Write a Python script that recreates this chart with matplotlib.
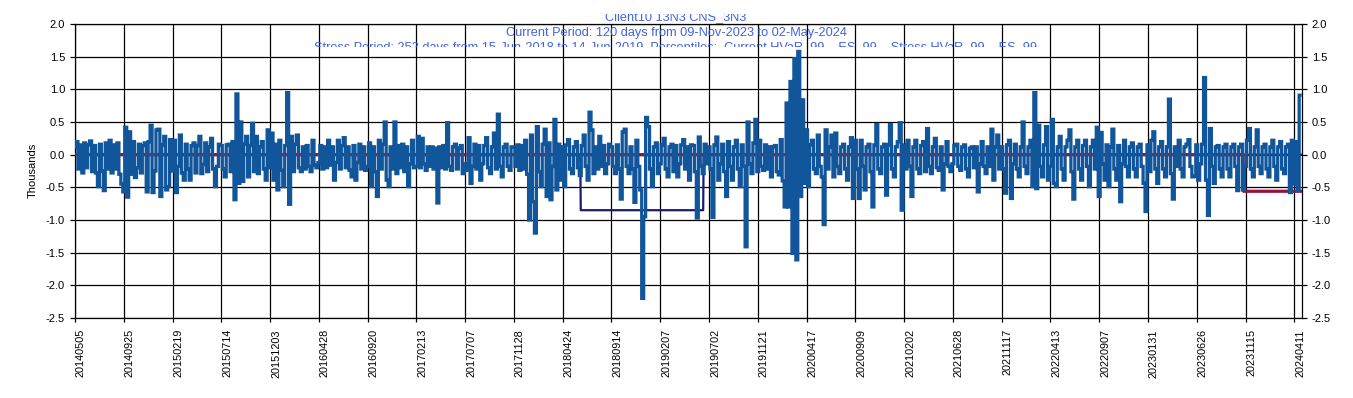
import numpy as np
import matplotlib
matplotlib.use("Agg")
import matplotlib.pyplot as plt
from matplotlib import font_manager
from matplotlib.transforms import ScaledTranslation, Bbox, TransformedBbox

plt.rcParams["axes.unicode_minus"] = False
plt.rcParams["path.simplify"] = False

# ---------------- data ----------------
tick_labels = ["20140505", "20140925", "20150219", "20150714", "20151203", "20160428",
               "20160920", "20170213", "20170707", "20171128", "20180424", "20180914",
               "20190207", "20190702", "20191121", "20200417", "20200909", "20210202",
               "20210628", "20211117", "20220413", "20220907", "20230131", "20230626",
               "20231115", "20240411"]

# daily P&L (thousands), one value every 4 trading days, 100 trading days per block
seg00 = [0.12, 0.20, -0.22, 0.15, -0.28, 0.18, -0.20, 0.15, 0.21, -0.26, 0.14, -0.28, -0.49,
         0.16, -0.25, -0.55, 0.18, -0.22, 0.22, -0.28, 0.15, -0.22, 0.18, -0.30, -0.45]
seg01 = [-0.57, 0.42, -0.65, 0.35, -0.30, 0.20, -0.35, -0.20, 0.16, -0.28, 0.14, 0.18, -0.57,
         0.20, 0.45, -0.58, -0.25, 0.38, 0.39, -0.64, 0.15, 0.28, -0.54, -0.49, 0.23]
seg02 = [-0.25, 0.22, -0.58, -0.18, 0.30, -0.28, -0.39, 0.16, -0.22, -0.39, 0.14, 0.18, -0.28,
         0.14, 0.28, -0.29, -0.15, 0.18, -0.26, 0.12, 0.25, -0.22, -0.49, -0.18, 0.16]
seg03 = [0.14, -0.22, -0.34, 0.15, 0.16, -0.26, 0.20, -0.69, 0.93, -0.44, 0.50, -0.41, 0.16,
         0.28, -0.34, 0.14, 0.48, -0.26, 0.28, -0.29, 0.12, 0.20, -0.22, -0.39, 0.38]
seg04 = [-0.20, 0.33, -0.39, 0.16, -0.54, 0.22, -0.24, -0.49, 0.14, 0.95, -0.76, 0.28, -0.26,
         0.16, 0.30, -0.20, -0.26, 0.12, -0.22, 0.14, -0.18, -0.26, 0.22, -0.16, -0.20]
seg05 = [-0.12, 0.14, -0.22, 0.12, -0.20, 0.22, -0.16, 0.12, -0.39, -0.12, 0.22, -0.22, 0.14,
         0.26, -0.20, 0.12, -0.24, -0.34, 0.14, -0.39, -0.12, 0.16, -0.22, 0.12, -0.24]
seg06 = [-0.18, 0.18, -0.49, 0.12, -0.26, -0.64, 0.22, -0.22, 0.16, 0.50, -0.39, -0.49, 0.12,
         -0.22, 0.50, -0.29, 0.14, -0.20, 0.16, -0.26, 0.12, -0.49, -0.14, 0.22, -0.20]
seg07 = [-0.18, 0.28, -0.20, 0.25, -0.14, -0.24, 0.12, -0.18, 0.12, -0.22, 0.10, -0.74, 0.12,
         -0.20, 0.14, -0.22, 0.49, -0.18, -0.24, 0.12, 0.16, -0.22, 0.10, 0.14, -0.29]
seg08 = [-0.14, -0.24, 0.26, -0.44, -0.18, 0.16, -0.22, 0.14, -0.39, -0.14, 0.14, 0.26, -0.20,
         -0.29, 0.12, 0.33, -0.22, 0.62, -0.18, -0.34, 0.12, 0.16, -0.18, -0.24, 0.12]
seg09 = [0.12, -0.18, 0.15, -0.24, 0.14, -0.22, 0.22, -0.30, -1.00, 0.30, -0.72, -1.20, 0.43,
         -0.26, -0.49, 0.16, 0.39, -0.64, 0.18, -0.69, -0.18, 0.54, -0.54, 0.16, -0.39]
seg10 = [0.12, -0.49, 0.15, 0.23, -0.22, -0.29, 0.12, 0.20, -0.20, -0.32, 0.14, 0.30, -0.18,
         -0.39, 0.65, 0.38, -0.29, 0.12, -0.22, 0.28, -0.18, 0.14, -0.29, -0.14, 0.16]
seg11 = [0.12, -0.18, -0.29, 0.15, -0.22, -0.68, 0.35, 0.39, -0.18, -0.29, 0.12, -0.22, -0.73,
         0.22, -0.18, -0.54, -2.20, -0.95, 0.57, 0.43, -0.22, -0.49, 0.12, 0.18, -0.29]
seg12 = [-0.14, 0.15, 0.25, -0.22, -0.34, 0.12, 0.16, -0.26, 0.14, -0.34, -0.14, 0.15, 0.23,
         -0.22, 0.12, -0.39, 0.15, 0.14, -0.26, -0.97, 0.27, -0.18, -0.29, 0.16, -0.14]
seg13 = [0.12, -0.22, -0.96, 0.15, 0.27, -0.39, -0.14, 0.16, -0.26, -0.64, 0.20, -0.18, -0.39,
         0.12, 0.22, -0.22, -0.49, 0.15, -0.18, -1.41, 0.50, -0.14, -0.29, 0.18, 0.54]
seg14 = [-0.26, 0.22, -0.18, -0.24, 0.15, -0.22, 0.12, -0.34, 0.12, 0.14, -0.26, -0.31, 0.23,
         -0.40, -0.80, 0.79, -0.80, 1.12, -1.51, 1.47, -1.61, 1.58, -0.64, 0.84, -0.44]
seg15 = [0.38, -0.49, 0.15, 0.22, -0.22, -0.29, 0.30, -0.18, -0.34, -1.07, 0.38, -0.22, 0.12,
         0.30, -0.34, 0.33, -0.18, -0.29, 0.12, 0.16, -0.22, -0.39, 0.12, 0.26, -0.67]
seg16 = [0.22, -0.22, -0.67, 0.22, -0.18, -0.54, 0.12, 0.16, -0.26, -0.80, 0.15, 0.46, -0.22,
         -0.29, 0.12, 0.16, -0.62, 0.15, 0.46, -0.22, -0.34, 0.12, 0.20, 0.49, -0.85]
seg17 = [0.15, -0.22, 0.22, -0.18, -0.64, 0.12, 0.22, -0.22, -0.29, 0.14, 0.20, -0.26, 0.40,
         -0.18, -0.29, 0.12, 0.25, -0.20, -0.24, 0.12, -0.54, -0.14, 0.20, -0.18, -0.26]
seg18 = [-0.14, 0.14, 0.16, -0.18, -0.24, 0.12, 0.15, -0.22, -0.34, 0.10, 0.12, -0.20, 0.12,
         -0.57, -0.14, 0.20, -0.18, -0.29, 0.12, -0.18, 0.39, -0.39, 0.12, 0.30, -0.22]
seg19 = [0.12, -0.22, -0.59, 0.15, 0.22, -0.67, -0.14, 0.16, -0.22, -0.34, 0.12, 0.50, -0.18,
         -0.29, 0.12, 0.22, -0.49, 0.95, -0.52, 0.45, -0.18, -0.34, 0.15, 0.43, -0.39]
seg20 = [-0.18, 0.54, -0.44, -0.49, 0.12, 0.28, -0.22, -0.39, 0.12, 0.22, 0.38, -0.26, -0.68,
         0.12, 0.22, -0.22, -0.39, 0.14, 0.22, -0.18, -0.49, 0.12, 0.22, -0.22, 0.42]
seg21 = [-0.64, 0.34, -0.14, -0.39, 0.15, -0.49, 0.12, 0.39, -0.22, -0.39, 0.14, -0.72, -0.14,
         0.22, -0.18, -0.34, 0.12, 0.18, -0.22, -0.34, 0.12, 0.16, -0.18, -0.44, -0.87]
seg22 = [0.15, -0.26, 0.22, 0.35, -0.22, -0.44, 0.12, 0.20, -0.22, -0.34, 0.12, 0.85, -0.29,
         -0.68, 0.12, -0.18, 0.22, -0.22, -0.34, 0.12, 0.16, 0.23, -0.18, -0.34, -0.33]
seg23 = [0.15, -0.39, -0.14, 0.16, 1.18, -0.39, -0.93, 0.40, -0.18, -0.44, 0.12, 0.14, -0.22,
         -0.34, 0.12, 0.16, -0.22, -0.34, 0.12, 0.16, -0.18, -0.55, 0.12, 0.16, -0.54]
seg24 = [-0.18, 0.22, 0.40, -0.22, -0.34, 0.12, 0.38, -0.18, -0.29, 0.12, 0.16, -0.22, -0.34,
         0.12, 0.22, -0.18, -0.39, 0.12, 0.20, -0.22, -0.29, 0.12, 0.16, -0.58, 0.22]
seg25 = [-0.45, 0.20, -0.55, 0.91]

# HVaR levels (thousands)
n_days = 2516
stress_start, stress_days, stress_level = 1037, 252, -0.85
current_start, current_days, current_level = 2396, 120, -0.56

title_lines = ["Client10 13N3 CNS_3N3",
               "Current Period: 120 days from 09-Nov-2023 to 02-May-2024",
               "Stress Period: 252 days from 15-Jun-2018 to 14-Jun-2019, Percentiles:  "
               "Current HVaR_99  , ES_99  , Stress HVaR_99  , ES_99"]

# ---------------- build ----------------
pnl = np.concatenate([seg00, seg01, seg02, seg03, seg04, seg05, seg06, seg07, seg08, seg09,
                      seg10, seg11, seg12, seg13, seg14, seg15, seg16, seg17, seg18, seg19,
                      seg20, seg21, seg22, seg23, seg24, seg25])
step = 4
x_pnl = np.arange(len(pnl)) * step
days = np.arange(n_days)
stress = np.where((days >= stress_start) & (days < stress_start + stress_days), stress_level, 0.0)
current = np.where(days >= current_start, current_level, 0.0)

W, H = 1353, 398
fig = plt.figure(figsize=(W / 100, H / 100), dpi=100)
fig.patch.set_facecolor("white")
left, right, top, bottom = 75, 1301.6, 24, 318
ax = fig.add_axes([left / W, 1 - bottom / H, (right - left) / W, (bottom - top) / H])

ax.plot(days, stress, color="#1E1A6E", lw=1.6, zorder=3)
ax.plot(days, current, color="#9B0F3C", lw=2.3, zorder=4)
ax.plot(x_pnl, pnl, color="#11559B", lw=2.35, zorder=5, drawstyle="steps-mid",
        solid_joinstyle="miter", snap=False)

ax.set_xlim(0, n_days - 1)
ax.set_ylim(-2.5, 2.0)
ax.set_yticks(np.arange(-2.5, 2.01, 0.5))
ax.yaxis.set_major_formatter(matplotlib.ticker.FormatStrFormatter("%.1f"))
ax.set_xticks(np.arange(0, len(tick_labels) * 100, 100))
ax.set_xticklabels(tick_labels, rotation=90, fontsize=7.8, family="Liberation Sans")
ax.grid(True, color="black", lw=0.9, zorder=1)
ax.set_axisbelow(True)
for sp in ax.spines.values():
    sp.set_color("black")
    sp.set_linewidth(0.9)
ax.tick_params(axis="x", direction="out", length=3, width=0.9, pad=5)
ax.tick_params(axis="y", direction="out", length=3.6, width=0.9, pad=3.6,
               left=True, right=True, labelleft=True, labelright=True, labelsize=8)
for lab in ax.get_yticklabels():
    lab.set_family("Liberation Sans")
off = ScaledTranslation(6 / 100, 0, fig.dpi_scale_trans)
for lab in ax.get_xticklabels():
    lab.set_transform(lab.get_transform() + off)

fig.text(32.5 / W, 1 - 170 / H, "Thousands", rotation=90, ha="center", va="center",
         fontsize=8, family="Liberation Sans")

# title (clipped box like the source)
names = {f.name for f in font_manager.fontManager.ttflist}
tfam = "Liberation Sans Narrow" if "Liberation Sans Narrow" in names else "Liberation Sans"
clip = TransformedBbox(Bbox([[0, 1 - 47 / H], [1, 1 - 14 / H]]), fig.transFigure)
tcol = "#4163E0"
baselines = [20, 36, 51]
fs = 11.0
probe = fig.text(0, 0, title_lines[1], fontsize=fs, family=tfam)
fig.canvas.draw()
wpx = probe.get_window_extent().width
probe.remove()
fs = fs * 342.0 / wpx
for line, b in zip(title_lines, baselines):
    t = fig.text(676 / W, 1 - b / H, line, ha="center", va="baseline", color=tcol,
                 fontsize=fs, family=tfam, zorder=10)
    t.set_clip_box(clip)
    t.set_clip_on(True)

fig.savefig("out.png", dpi=100, facecolor="white")
